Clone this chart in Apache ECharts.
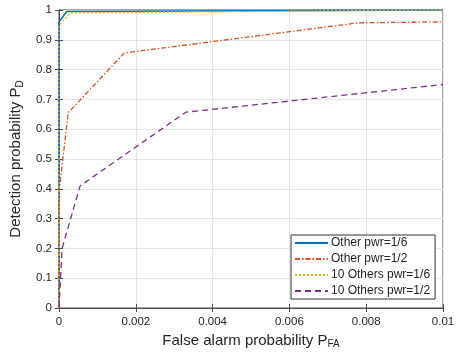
<!DOCTYPE html>
<html>
<head>
<meta charset="utf-8">
<script src="https://cdn.jsdelivr.net/npm/echarts@6/dist/echarts.min.js"></script>
<style>
  html, body { margin: 0; padding: 0; background: #fff; }
  #chart { width: 458px; height: 355px; }
</style>
</head>
<body>
<div id="chart"></div>
<script>
// values
var xTicks = [0, 0.002, 0.004, 0.006, 0.008, 0.01];
var seriesNames = ['Other pwr=1/6', 'Other pwr=1/2', '10 Others pwr=1/6', '10 Others pwr=1/2'];

var one6X = [0, 0, 0.0002, 0.01];
var one6Y = [0, 0.96, 0.995, 1];

var one2X = [0, 0.00001, 0.00024, 0.0017, 0.0078, 0.01];
var one2Y = [0, 0.40, 0.655, 0.856, 0.957, 0.96];

var ten6X = [0, 0, 0.0003, 0.01];
var ten6Y = [0, 0.95, 0.99, 1];

var ten2X = [0, 0.00008, 0.00055, 0.0033, 0.01];
var ten2Y = [0, 0.20, 0.41, 0.657, 0.75];

function pairs(xs, ys) {
    var out = [];
    for (var i = 0; i < xs.length; i++) out.push([xs[i], ys[i]]);
    return out;
}

var font = 'Liberation Sans, Arial, sans-serif';
var txt = '#262626';

var myChart = echarts.init(document.getElementById('chart'));

var option = {
    backgroundColor: '#fff',
    animation: false,
    textStyle: { fontFamily: font },
    grid: { left: 59, right: 15, top: 10, bottom: 47, show: true, borderColor: '#4d4d4d', borderWidth: 1 },
    legend: {
        orient: 'vertical',
        left: 291,
        top: 235,
        itemWidth: 33,
        itemHeight: 12,
        itemGap: 4,
        padding: [2, 5, 2, 3],
        backgroundColor: '#fff',
        borderColor: '#333',
        borderWidth: 1,
        borderRadius: 0,
        itemStyle: { opacity: 0 },
        textStyle: { fontSize: 12, color: txt, fontFamily: font, padding: [0, 0, 0, -2] },
        data: seriesNames
    },
    xAxis: [{
        type: 'value',
        min: 0, max: 0.01, interval: 0.002,
        name: '{a|False alarm probability P}{s|FA}',
        nameLocation: 'middle',
        nameGap: 23,
        nameTextStyle: {
            rich: {
                a: { fontSize: 15, color: txt, fontFamily: font },
                s: { fontSize: 10, color: txt, fontFamily: font, padding: [8, 0, 0, 0] }
            }
        },
        axisLine: { lineStyle: { color: '#4d4d4d' } },
        axisTick: { inside: true, length: 4, lineStyle: { color: '#4d4d4d' } },
        axisLabel: {
            fontSize: 11.5, color: txt, margin: 8,
            formatter: function(v) { return xTicks.indexOf(+v.toFixed(3)) >= 0 ? String(+v.toFixed(3)) : ''; }
        },
        splitLine: { show: true, lineStyle: { color: '#e6e6e6' } }
    }, {
        type: 'value', position: 'top',
        min: 0, max: 0.01, interval: 0.002,
        axisLine: { show: true, lineStyle: { color: '#4d4d4d' } },
        axisTick: { show: true, inside: true, length: 4, lineStyle: { color: '#4d4d4d' } },
        axisLabel: { show: false },
        splitLine: { show: false }
    }],
    yAxis: [{
        type: 'value',
        min: 0, max: 1, interval: 0.1,
        name: '{a|Detection probability P}{s|D}',
        nameLocation: 'middle',
        nameGap: 28,
        nameTextStyle: {
            rich: {
                a: { fontSize: 15, color: txt, fontFamily: font },
                s: { fontSize: 10, color: txt, fontFamily: font, padding: [8, 0, 0, 0] }
            }
        },
        axisLine: { show: true, lineStyle: { color: '#4d4d4d' } },
        axisTick: { show: true, inside: true, length: 4, lineStyle: { color: '#4d4d4d' } },
        axisLabel: {
            fontSize: 11.5, color: txt, margin: 7,
            formatter: function(v) { return String(+v.toFixed(1)); }
        },
        splitLine: { show: true, lineStyle: { color: '#e6e6e6' } }
    }, {
        type: 'value', position: 'right',
        min: 0, max: 1, interval: 0.1,
        axisLine: { show: true, lineStyle: { color: '#4d4d4d' } },
        axisTick: { show: true, inside: true, length: 4, lineStyle: { color: '#4d4d4d' } },
        axisLabel: { show: false },
        splitLine: { show: false }
    }],
    series: [{
        name: seriesNames[0], type: 'line', symbol: 'none',
        data: pairs(one6X, one6Y),
        lineStyle: { color: '#0072BD', width: 1.5, type: 'solid' },
        itemStyle: { color: '#0072BD' }
    }, {
        name: seriesNames[1], type: 'line', symbol: 'none',
        data: pairs(one2X, one2Y),
        lineStyle: { color: '#D95319', width: 1.3, type: [5, 2, 1.5, 2] },
        itemStyle: { color: '#D95319' }
    }, {
        name: seriesNames[2], type: 'line', symbol: 'none',
        data: pairs(ten6X, ten6Y),
        lineStyle: { color: '#EDB120', width: 1.3, type: [2, 2] },
        itemStyle: { color: '#EDB120' }
    }, {
        name: seriesNames[3], type: 'line', symbol: 'none',
        data: pairs(ten2X, ten2Y),
        lineStyle: { color: '#7E2F8E', width: 1.3, type: [6, 4] },
        itemStyle: { color: '#7E2F8E' }
    }]
};

myChart.setOption(option);
</script>
</body>
</html>
